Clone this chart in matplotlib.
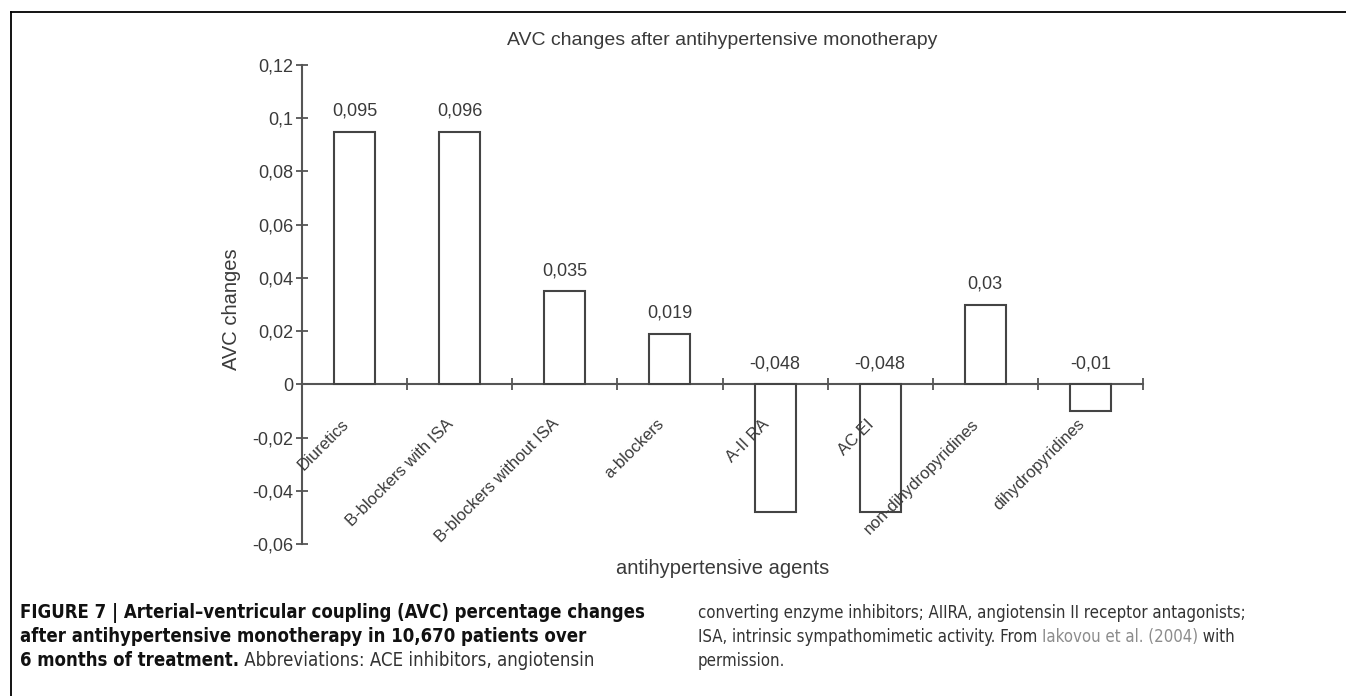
import numpy as np
import matplotlib
matplotlib.use('Agg')
import matplotlib.pyplot as plt
from matplotlib.lines import Line2D

# data
categories = ['Diuretics', 'B-blockers with ISA', 'B-blockers without ISA', 'a-blockers',
              'A-II RA', 'AC EI', 'non-dihydropyridines', 'dihydropyridines']
avc_change = [0.095, 0.095, 0.035, 0.019, -0.048, -0.048, 0.03, -0.01]
bar_labels = ['0,095', '0,096', '0,035', '0,019', '-0,048', '-0,048', '0,03', '-0,01']
y_ticks = [-0.06, -0.04, -0.02, 0, 0.02, 0.04, 0.06, 0.08, 0.1, 0.12]
y_tick_labels = ['-0,06', '-0,04', '-0,02', '0', '0,02', '0,04', '0,06', '0,08', '0,1', '0,12']

W, H = 1346, 696
ink = '#3a3a3a'
line_c = '#555555'

plt.rcParams['font.family'] = ['Liberation Sans', 'DejaVu Sans']

fig = plt.figure(figsize=(W / 100, H / 100), dpi=100)
fig.patch.set_facecolor('white')

# axes box in pixels: left 302, right 1143, top 65, bottom 544
ax = fig.add_axes([302 / W, 1 - 544 / H, (1143 - 302) / W, (544 - 65) / H])

x = np.arange(len(categories))
ax.bar(x, avc_change, width=0.39, color='white', edgecolor='#444444', linewidth=1.5, zorder=3)

ax.set_xlim(-0.5, len(categories) - 0.5)
ax.set_ylim(-0.06, 0.12)

for s in ['top', 'right']:
    ax.spines[s].set_visible(False)
ax.spines['left'].set_color(line_c)
ax.spines['left'].set_linewidth(1.5)
ax.spines['bottom'].set_position(('data', 0))
ax.spines['bottom'].set_color(line_c)
ax.spines['bottom'].set_linewidth(1.5)

ax.set_yticks(y_ticks)
ax.set_yticklabels(y_tick_labels)
ax.tick_params(axis='y', direction='inout', length=8, width=1.3, color=line_c,
               labelsize=13, labelcolor=ink, pad=2)

ax.set_xticks(list(x + 0.5))
ax.set_xticklabels([])
ax.tick_params(axis='x', direction='inout', length=9, width=1.3, color=line_c)

for xi, cat in zip(x, categories):
    ax.text(xi - 0.13, -0.012, cat, rotation=45, rotation_mode='anchor',
            ha='right', va='top', fontsize=12, color=ink)

for xi, v, lab in zip(x, avc_change, bar_labels):
    ax.text(xi, max(v, 0) + 0.0045, lab, ha='center', va='bottom', fontsize=13, color=ink)

ax.set_ylabel('AVC changes', fontsize=14.5, color=ink)
ax.yaxis.set_label_coords(-0.072, 0.49)
ax.set_xlabel('antihypertensive agents', fontsize=14.5, color=ink)
ax.xaxis.set_label_coords(0.5, -0.031)
ax.text(0.5, 1.052, 'AVC changes after antihypertensive monotherapy', transform=ax.transAxes,
        ha='center', va='center', fontsize=14, color=ink)

# frame around the figure panel
fig.add_artist(Line2D([11 / W, 1], [1 - 12 / H, 1 - 12 / H], color='black', lw=1.3))
fig.add_artist(Line2D([11 / W, 11 / W], [0, 1 - 12 / H], color='black', lw=1.3))

# caption, two columns
renderer = fig.canvas.get_renderer()
cap_kw = dict(family='DejaVu Sans', fontstretch='condensed')


def fit_size(txt, weight, width_px, size=14):
    t = fig.text(0, 0, txt, fontsize=size, fontweight=weight, **cap_kw)
    w = t.get_window_extent(renderer=renderer).width
    t.remove()
    return min(size, size * width_px / w)


left_size = fit_size('FIGURE 7 | Arterial\u2013ventricular coupling (AVC) percentage changes', 'bold', 632)
right_size = fit_size('converting enzyme inhibitors; AIIRA, angiotensin II receptor antagonists;', 'normal', 552)
cap_size = min(left_size, right_size + 0.6)


def cap_line(x_px, y_px, parts, size):
    xx = x_px / W
    for txt, weight, col in parts:
        t = fig.text(xx, 1 - y_px / H, txt, ha='left', va='center', fontsize=size,
                     fontweight=weight, color=col, **cap_kw)
        bb = t.get_window_extent(renderer=renderer)
        xx = bb.x1 / W


cap_line(20, 613, [('FIGURE 7 | Arterial\u2013ventricular coupling (AVC) percentage changes', 'bold', '#111111')], left_size)
cap_line(20, 637, [('after antihypertensive monotherapy in 10,670 patients over', 'bold', '#111111')], left_size)
cap_line(20, 661, [('6 months of treatment.', 'bold', '#111111'),
                   (' Abbreviations: ACE inhibitors, angiotensin', 'normal', '#333333')], left_size)
cap_line(698, 613, [('converting enzyme inhibitors; AIIRA, angiotensin II receptor antagonists;', 'normal', '#333333')], right_size)
cap_line(698, 637, [('ISA, intrinsic sympathomimetic activity. From ', 'normal', '#333333'),
                    ('Iakovou et al. (2004)', 'normal', '#8c8c8c'),
                    (' with', 'normal', '#333333')], right_size)
cap_line(698, 661, [('permission.', 'normal', '#333333')], right_size)

fig.savefig('out.png', dpi=100, facecolor='white')
